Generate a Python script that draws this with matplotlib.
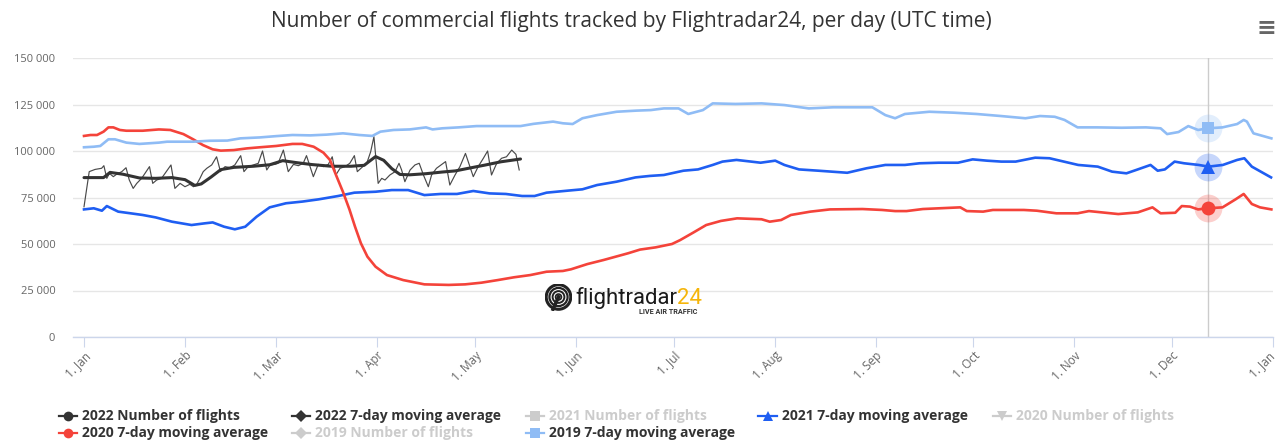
import numpy as np
import matplotlib
matplotlib.use('Agg')
import matplotlib.pyplot as plt
from matplotlib.lines import Line2D
from matplotlib.patches import Circle
from matplotlib.ticker import FuncFormatter, FixedLocator
from matplotlib.transforms import ScaledTranslation

plt.rcParams['font.family'] = ['Open Sans', 'DejaVu Sans']

# ---------------- data (x = day of year, 0 = 1 Jan) ----------------
month_days = [0, 31, 59, 90, 120, 151, 181, 212, 243, 273, 304, 334, 365]
month_labels = ['1. Jan', '1. Feb', '1. Mar', '1. Apr', '1. May', '1. Jun', '1. Jul',
                '1. Aug', '1. Sep', '1. Oct', '1. Nov', '1. Dec', '1. Jan']
y_ticks = [0, 25000, 50000, 75000, 100000, 125000, 150000]

days_2022_daily = [0, 1.6, 3.4, 5.4, 6.1, 7.0, 7.8, 9.0, 10.0, 11.6, 12.9, 13.9, 15.1, 16.2,
                   17.7, 20.1, 21.1, 22.3, 23.8, 26.7, 27.9, 29.5, 31.0, 32.5, 33.6, 34.6,
                   35.6, 36.6, 37.7, 39.2, 40.7, 41.9, 43.3, 44.8, 46.3, 48.1, 49.1, 50.4,
                   52.0, 53.5, 54.8, 56.1, 57.1, 58.6, 59.6, 61.2, 62.7, 64.3, 65.8, 67.3,
                   68.3, 70.4, 71.9, 73.5, 75.0, 76.2, 77.3, 78.6, 80.1, 81.6, 83.0, 83.9,
                   85.2, 86.8, 88.0, 89.0, 90.3, 91.4, 92.4, 93.9, 95.5, 96.7, 97.5, 98.5,
                   100.1, 101.6, 102.9, 104.2, 105.7, 106.7, 108.2, 111.0, 112.3, 113.9,
                   115.4, 117.1, 119.5, 121.0, 122.6, 123.9, 125.1, 126.7, 128.2, 129.7,
                   131.3, 132.6, 133.6]
flights_2022_daily = [70000, 88900, 90100, 90700, 92100, 85300, 88000, 86200, 87500, 88900,
                      91000, 84400, 79900, 82600, 85300, 91600, 82600, 84400, 85300, 92500,
                      79900, 82600, 80800, 82100, 80800, 82100, 85300, 88900, 90700, 92500,
                      96900, 88900, 91600, 91000, 92500, 97500, 88900, 91600, 92500, 93400,
                      100000, 89800, 92500, 92800, 93400, 100500, 88900, 92800, 92100, 93400,
                      97500, 86200, 92800, 91600, 92800, 96900, 87100, 90700, 91600, 93400,
                      97500, 88900, 91000, 93400, 99600, 107700, 82600, 85300, 84400, 87100,
                      88900, 93400, 89800, 83500, 89800, 92500, 93400, 87100, 80800, 87100,
                      90700, 94300, 81700, 87100, 91600, 98700, 86200, 91600, 96100, 100000,
                      87100, 93400, 96100, 96900, 100500, 98200, 89800]

days_2022_avg = [0, 6, 8, 12, 17, 22, 27, 31, 34, 36, 39, 42, 46, 52, 57, 61, 65, 70, 76,
                 82, 86, 88, 89.5, 92, 94.5, 97, 100, 105, 110, 114, 118, 123, 128, 134]
flights_2022_avg = [85700, 85700, 88500, 87500, 85500, 85300, 85700, 84600, 81500, 82300,
                    86000, 90000, 91200, 91800, 92600, 94800, 93800, 92700, 91800, 91800,
                    92300, 95000, 97000, 95000, 90500, 87400, 87200, 87800, 88700, 89300,
                    90700, 92400, 94200, 95700]

days_2021_avg = [0, 3, 5.5, 7, 10.5, 14.3, 18, 22, 27, 33, 37, 39.5, 43, 46.3, 49.5, 53, 57,
                 62, 67, 72, 78, 83, 89.5, 94.5, 99.5, 104.5, 109.5, 114.5, 119.5, 124.5,
                 129.5, 134.5, 138.3, 142, 148.6, 153, 157.5, 163.5, 169.3, 173.7, 178, 184,
                 188.5, 193, 196, 200.3, 204.8, 207.7, 212.2, 215, 219.5, 225.5, 234.3,
                 240.2, 246, 252, 256.5, 262.4, 268.3, 272.8, 277.2, 281.6, 286, 292, 296.4,
                 300.8, 305.2, 311.2, 315.6, 320, 323, 327.4, 329.6, 331.8, 334.8, 337.7,
                 342.2, 345.2, 349.6, 354, 356.2, 358.5, 364.4]
flights_2021_avg = [68600, 69200, 67900, 70400, 67400, 66500, 65600, 64300, 62000, 60200,
                    61100, 61600, 59300, 57900, 59300, 64700, 69700, 71900, 72800, 74000,
                    75800, 77600, 78100, 79000, 79000, 76300, 76900, 76900, 78500, 77200,
                    76900, 75800, 75800, 77600, 78700, 79400, 81700, 83500, 85800, 86600,
                    87100, 89400, 90100, 92500, 94300, 95200, 94300, 93700, 94800, 92500,
                    90100, 89400, 88300, 90700, 92500, 92500, 93400, 93700, 93700, 95500,
                    94800, 94300, 94300, 96400, 96100, 94300, 92500, 91600, 88900, 88000,
                    89800, 92500, 89400, 90100, 94300, 93400, 92500, 91600, 92500, 95200,
                    96100, 91600, 85800]

days_2020_avg = [0, 2, 4, 6, 7.5, 9, 11, 13, 18, 23, 26.5, 30.5, 33.5, 36.5, 39.5, 42, 46,
                 50, 54, 59, 64, 67, 70.5, 73.5, 75.5, 77.5, 79.5, 81.5, 83.2, 85, 87, 89.5,
                 93, 98, 104.5, 112, 117, 122, 127, 132, 137, 142, 147, 149.5, 154.5, 159.5,
                 167, 170.7, 175.5, 180.5, 183, 187, 191, 195.5, 200.5, 208, 210.5, 214, 217,
                 223, 229, 239, 245, 249, 252.5, 257.5, 269, 271, 276, 279, 288.5, 292.5,
                 298.5, 305, 308.5, 317.5, 323.5, 328, 330.5, 335, 337, 339.5, 342, 345,
                 349.5, 353.5, 356, 358.5, 361, 364.5]
flights_2020_avg = [108100, 108600, 108600, 110400, 112700, 112700, 111300, 110900, 110900,
                    111600, 111300, 109100, 106300, 103200, 100900, 100200, 100500, 101400,
                    102000, 102700, 103800, 103800, 102300, 99100, 95200, 86500, 78000,
                    68500, 59300, 50400, 43200, 37800, 33300, 30600, 28300, 28000, 28300,
                    29200, 30600, 32100, 33300, 35100, 35500, 36400, 39200, 41400, 45000,
                    47000, 48200, 50000, 52100, 56100, 60200, 62400, 63800, 63300, 62000,
                    62900, 65600, 67400, 68600, 68800, 68300, 67700, 67700, 68800, 69700,
                    67700, 67400, 68300, 68300, 67900, 66500, 66500, 67700, 66100, 67000,
                    69700, 66500, 66800, 70400, 70100, 68600, 69200, 69700, 74000, 76900,
                    71500, 69700, 68600]

days_2019_avg = [0, 3, 5, 7.5, 9.5, 13, 17, 23, 25.5, 33.5, 38.5, 44, 48, 54, 59, 64, 69.5,
                 74.5, 79.5, 84.5, 88.5, 91, 95, 100, 105, 107, 110, 115, 120.5, 125.5,
                 130.5, 134, 138, 144, 147, 150, 153, 157.5, 163.5, 169.5, 174, 178, 182.5,
                 185.5, 190, 193, 200, 208, 215, 222.5, 230, 237, 242, 246, 249, 252, 259.5,
                 267, 274, 281.5, 289, 293.5, 298, 301, 305, 311, 318.5, 326, 330.5, 332.5,
                 336, 339, 342, 345, 349.5, 354, 356, 357, 359, 364.5]
flights_2019_avg = [102000, 102300, 102700, 106300, 106300, 104500, 103800, 104500, 105000,
                    105000, 105500, 105600, 106800, 107300, 108000, 108600, 108400, 108800,
                    109500, 108600, 108100, 110400, 111300, 111600, 112700, 111600, 112200,
                    112700, 113400, 113400, 113400, 113400, 114600, 115800, 114900, 114500,
                    117600, 119300, 121100, 121700, 122000, 122900, 122900, 119900, 122000,
                    125600, 125300, 125600, 124700, 122900, 123500, 123500, 123500, 119300,
                    117600, 119900, 121100, 120600, 119900, 118800, 117600, 118800, 118400,
                    116700, 112700, 112700, 112500, 112700, 112200, 109100, 110200, 113400,
                    111300, 112200, 112700, 114500, 116700, 115800, 109500, 106800]

hover_day = 345

# ---------------- style ----------------
W, H = 1275, 440
c2022 = '#333333'
c2022_daily = '#4a4a4a'
c2021 = '#1f5ef2'
c2020 = '#f4433a'
c2019 = '#8fbcf5'
hidden = '#cccccc'


def fx(px):
    return px / W


def fy(py):
    return 1 - py / H


fig = plt.figure(figsize=(W / 100, H / 100), dpi=100)
fig.patch.set_facecolor('white')
ax = fig.add_axes([fx(72.7), fy(337), fx(1273) - fx(72.7), fy(58) - fy(337)])

ax.set_xlim(-3.47, 365)
ax.set_ylim(0, 150000)

# grid / axes styling
ax.yaxis.set_major_locator(FixedLocator(y_ticks))
ax.yaxis.set_major_formatter(FuncFormatter(lambda v, p: f"{int(v):,}".replace(',', ' ')))
ax.grid(axis='y', color='#e6e6e6', linewidth=1.0)
ax.set_axisbelow(True)
for s in ['top', 'right', 'left']:
    ax.spines[s].set_visible(False)
ax.spines['bottom'].set_color('#ccd6eb')
ax.spines['bottom'].set_linewidth(1.0)
ax.tick_params(axis='y', length=0, pad=12.5, labelsize=8, labelcolor='#666666')
ax.set_xticks(month_days)
ax.set_xticklabels(month_labels)
ax.tick_params(axis='x', length=7.2, width=0.8, color='#ccd6eb', pad=1.5,
               labelsize=8.5, labelcolor='#666666')
xlabs = ax.get_xticklabels()
for lab in xlabs:
    lab.set_rotation(45)
    lab.set_ha('right')
    lab.set_va('top')
    lab.set_rotation_mode('anchor')
# keep the last label inside the picture
xlabs[-1].set_transform(xlabs[-1].get_transform() +
                        ScaledTranslation(-5 / 100, 0, fig.dpi_scale_trans))

# crosshair
ax.axvline(hover_day, color='#cccccc', linewidth=1.0, zorder=1)

# series (later series on top, as in the original order)
ax.plot(days_2022_daily, flights_2022_daily, color=c2022_daily, linewidth=0.85, zorder=3)
ax.plot(days_2022_avg, flights_2022_avg, color=c2022, linewidth=2.2, zorder=4,
        solid_joinstyle='round', solid_capstyle='round')
ax.plot(days_2021_avg, flights_2021_avg, color=c2021, linewidth=1.9, zorder=5,
        solid_joinstyle='round')
ax.plot(days_2020_avg, flights_2020_avg, color=c2020, linewidth=1.9, zorder=6,
        solid_joinstyle='round')
ax.plot(days_2019_avg, flights_2019_avg, color=c2019, linewidth=1.9, zorder=7,
        solid_joinstyle='round')

# hover markers with halos
for d, v, c, m, ms in [(days_2019_avg, flights_2019_avg, c2019, 's', 9),
                       (days_2021_avg, flights_2021_avg, c2021, '^', 10),
                       (days_2020_avg, flights_2020_avg, c2020, 'o', 10)]:
    yv = np.interp(hover_day, d, v)
    ax.plot([hover_day], [yv], marker='o', markersize=20, color=c, alpha=0.25,
            markeredgewidth=0, linestyle='none', zorder=8)
    ax.plot([hover_day], [yv], marker=m, markersize=ms, color=c,
            markeredgewidth=0, linestyle='none', zorder=9)

# title and menu icon
fig.text(fx(631), fy(22), 'Number of commercial flights tracked by Flightradar24, per day (UTC time)',
         ha='center', va='center', fontsize=15, color='#333333')
fig.text(fx(1266), fy(28), '\u2261', ha='center', va='center', fontsize=17,
         color='#666666', family=['DejaVu Sans'], fontweight='bold')

# watermark logo
lax = fig.add_axes([fx(545), fy(311), fx(27), fy(283) - fy(311)])
lax.set_xlim(-1.1, 1.1)
lax.set_ylim(-1.1, 1.1)
lax.set_aspect('equal')
lax.axis('off')
for r, lw in [(1.0, 2.2), (0.74, 1.6), (0.48, 1.4), (0.24, 1.2)]:
    lax.add_patch(Circle((0, 0), r, fill=False, lw=lw, color='#222222'))
lax.plot([0, -0.45], [0, -1.0], color='#222222', lw=2.5)
lax.add_patch(Circle((0, 0), 0.1, color='#222222'))

t1 = fig.text(fx(575), fy(304), 'flightradar', ha='left', va='baseline', fontsize=16,
              color='#1a1a1a', family=['Roboto', 'DejaVu Sans'])
fig.canvas.draw()
bb = t1.get_window_extent()
fig.text(bb.x1 / W, fy(304), '24', ha='left', va='baseline', fontsize=16,
         color='#f5b50a', family=['Roboto', 'DejaVu Sans'])
fig.text(fx(697), fy(314), 'LIVE AIR TRAFFIC', ha='right', va='baseline', fontsize=5.2,
         color='#333333', fontweight='bold', family=['Roboto', 'DejaVu Sans'])

# legend (manual, Highcharts-like layout)
entries = [
    ('2022 Number of flights', c2022, 'o', 0, 0, False),
    ('2022 7-day moving average', c2022, 'D', 1, 0, False),
    ('2021 Number of flights', hidden, 's', 2, 0, True),
    ('2021 7-day moving average', c2021, '^', 3, 0, False),
    ('2020 Number of flights', hidden, 'v', 4, 0, True),
    ('2020 7-day moving average', c2020, 'o', 0, 1, False),
    ('2019 Number of flights', hidden, 'D', 1, 1, True),
    ('2019 7-day moving average', c2019, 's', 2, 1, False),
]
text_x = [82, 315, 549, 782, 1016]
row_y = [416, 433]
for label, color, marker, col, row, hid in entries:
    tx = text_x[col]
    sx = tx - 14.5
    sy = row_y[row]
    fig.add_artist(Line2D([fx(sx - 9), fx(sx + 9)], [fy(sy), fy(sy)], color=color,
                          linewidth=1.6, transform=fig.transFigure))
    ms = 6 if marker == 'D' else 7
    fig.add_artist(Line2D([fx(sx)], [fy(sy)], color=color, marker=marker, markersize=ms,
                          markeredgewidth=0, linestyle='none', transform=fig.transFigure))
    fig.text(fx(tx), fy(sy), label, ha='left', va='center', fontsize=10,
             fontweight='bold', color=hidden if hid else '#333333')

fig.savefig('out.png', dpi=100, facecolor='white')
